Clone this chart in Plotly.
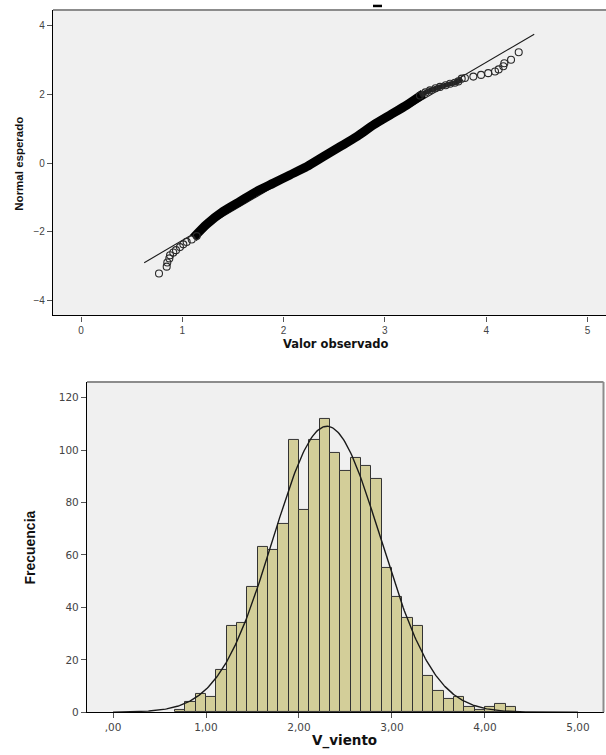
import numpy as np
import plotly.graph_objects as go

W, H = 606, 755

# ---------------- Q-Q normal plot data (observed value, expected normal) ----------------
# lower tail, individually visible points
qq_low_obs = [0.77, 0.846, 0.852, 0.872, 0.879, 0.911, 0.938, 0.977, 1.01, 1.043, 1.093, 1.142]
qq_low_exp = [-3.21, -3.01, -2.89, -2.77, -2.68, -2.60, -2.53, -2.44, -2.36, -2.29, -2.22, -2.12]

# dense central band
qq_mid_obs = [1.109, 1.24, 1.405, 1.57, 1.734, 1.90, 2.063, 2.228, 2.392, 2.557,
              2.72, 2.886, 3.05, 3.215, 3.38]
qq_mid_exp = [-2.17, -1.78, -1.40, -1.11, -0.82, -0.58, -0.34, -0.10, 0.19, 0.48,
              0.77, 1.11, 1.40, 1.69, 2.02]

# upper shoulder, closely packed points
qq_sh_obs = [3.346, 3.40, 3.445, 3.50, 3.544, 3.60, 3.643, 3.69, 3.725, 3.758]
qq_sh_exp = [1.97, 2.06, 2.12, 2.18, 2.22, 2.27, 2.31, 2.34, 2.38, 2.46]

# upper tail, individually visible points
qq_up_obs = [3.79, 3.873, 3.949, 4.02, 4.087, 4.123, 4.169, 4.179, 4.245, 4.321]
qq_up_exp = [2.48, 2.52, 2.57, 2.62, 2.67, 2.73, 2.82, 2.91, 3.01, 3.23]

# sample statistics of V_viento
mean_v = 2.30
sd_v = 0.579
ref_line_x = [0.624, 4.474]

# ---------------- Histogram data ----------------
bin_start = 2.0 / 3.0
bin_width = 1.0 / 9.0
counts = [1, 4, 7, 6, 16, 33, 34, 48, 63, 62, 72, 104,
          77, 104, 112, 99, 92, 97, 94, 89, 55,
          44, 36, 33, 14, 8, 5, 6, 2, 1, 2, 3, 2]

top_ticks = [0, 1, 2, 3, 4, 5]
top_yticks = [-4, -2, 0, 2, 4]
hist_xticks = [0, 1, 2, 3, 4, 5]
hist_xtext = [",00", "1,00", "2,00", "3,00", "4,00", "5,00"]
hist_yticks = [0, 20, 40, 60, 80, 100, 120]

n_total = sum(counts)
centers = [bin_start + (i + 0.5) * bin_width for i in range(len(counts))]

fig = go.Figure()

# --- Q-Q plot ---
ref_y = [(x - mean_v) / sd_v for x in ref_line_x]
fig.add_trace(go.Scatter(x=ref_line_x, y=ref_y, mode="lines",
                         line=dict(color="#1a1a1a", width=1.1),
                         xaxis="x", yaxis="y", hoverinfo="skip"))
fig.add_trace(go.Scatter(x=qq_mid_obs, y=qq_mid_exp, mode="lines",
                         line=dict(color="#000000", width=9, shape="spline", smoothing=0.6),
                         xaxis="x", yaxis="y"))
fig.add_trace(go.Scatter(x=qq_sh_obs, y=qq_sh_exp, mode="lines",
                         line=dict(color="#222222", width=5, shape="spline", smoothing=0.6),
                         xaxis="x", yaxis="y"))
circle = dict(symbol="circle-open", size=7, color="#2a2a2a", line=dict(width=1.1, color="#2a2a2a"))
for xo, ye in [(qq_low_obs, qq_low_exp), (qq_sh_obs, qq_sh_exp), (qq_up_obs, qq_up_exp)]:
    fig.add_trace(go.Scatter(x=xo, y=ye, mode="markers", marker=circle,
                             xaxis="x", yaxis="y"))

# --- Histogram with normal curve ---
fig.add_trace(go.Bar(x=centers, y=counts, width=bin_width,
                     marker=dict(color="#D3CE99", line=dict(color="#333333", width=1)),
                     xaxis="x2", yaxis="y2"))
xs = np.linspace(0, 5, 400)
ys = n_total * bin_width / (sd_v * np.sqrt(2 * np.pi)) * np.exp(-0.5 * ((xs - mean_v) / sd_v) ** 2)
fig.add_trace(go.Scatter(x=xs, y=ys, mode="lines", line=dict(color="#1a1a1a", width=1.4),
                         xaxis="x2", yaxis="y2"))


def px_x(p):
    return p / W


def px_y(p):
    return 1 - p / H


tick_font_top = dict(family="Liberation Sans, Arial", size=10, color="#444444")
tick_font_bot = dict(family="DejaVu Sans", size=10.5, color="#444444")

axis_common = dict(showgrid=False, zeroline=False, showline=True, linecolor="#000000",
                   linewidth=1.3, ticks="outside", ticklen=5, tickcolor="#555555",
                   tickwidth=1, mirror=False)

fig.update_layout(
    width=W, height=H, autosize=False,
    margin=dict(l=0, r=0, t=0, b=0),
    paper_bgcolor="#FFFFFF", plot_bgcolor="#F0F0F0",
    showlegend=False, bargap=0,
    xaxis=dict(domain=[px_x(53), 1.0], range=[-0.2764, 5.1826], tickvals=top_ticks,
               tickfont=tick_font_top, anchor="y", **axis_common),
    yaxis=dict(domain=[px_y(318), px_y(10)], range=[-4.43, 4.46], tickvals=top_yticks,
               tickfont=tick_font_top, anchor="x", **axis_common),
    xaxis2=dict(domain=[px_x(87), px_x(603.5)], range=[-0.28, 5.275], tickvals=hist_xticks,
                ticktext=hist_xtext, tickfont=tick_font_bot, anchor="y2", **axis_common),
    yaxis2=dict(domain=[px_y(718), px_y(385)], range=[0, 126], tickvals=hist_yticks,
                tickfont=tick_font_bot, anchor="x2", **axis_common),
)

# gray frame edges (top / right) of each plot area
frame = dict(color="#8C8C8C", width=2)
fig.add_shape(type="line", xref="x domain", yref="y domain", x0=0, x1=1, y0=1, y1=1, line=frame)
fig.add_shape(type="line", xref="x2 domain", yref="y2 domain", x0=0, x1=1, y0=1, y1=1, line=frame)
fig.add_shape(type="line", xref="x2 domain", yref="y2 domain", x0=1, x1=1, y0=0, y1=1, line=frame)
# remnant of the chart title above the Q-Q plot
fig.add_shape(type="line", xref="paper", yref="paper", x0=px_x(373), x1=px_x(382),
              y0=px_y(6), y1=px_y(6), line=dict(color="#000000", width=2.5))

label = dict(xref="paper", yref="paper", showarrow=False, xanchor="center", yanchor="middle")
fig.add_annotation(text="<b>Valor observado</b>", x=px_x(335), y=px_y(347),
                   font=dict(family="DejaVu Sans", size=11.5, color="#111111"), **label)
fig.add_annotation(text="<b>Normal esperado</b>", x=px_x(19), y=px_y(165), textangle=-90,
                   font=dict(family="Liberation Sans, Arial", size=11.5, color="#111111"), **label)
fig.add_annotation(text="<b>V_viento</b>", x=px_x(345), y=px_y(746),
                   font=dict(family="DejaVu Sans", size=13.5, color="#111111"), **label)
fig.add_annotation(text="<b>Frecuencia</b>", x=px_x(30), y=px_y(552), textangle=-90,
                   font=dict(family="Liberation Sans Narrow, Liberation Sans", size=14,
                             color="#111111"), **label)

fig.write_html("out.html")
